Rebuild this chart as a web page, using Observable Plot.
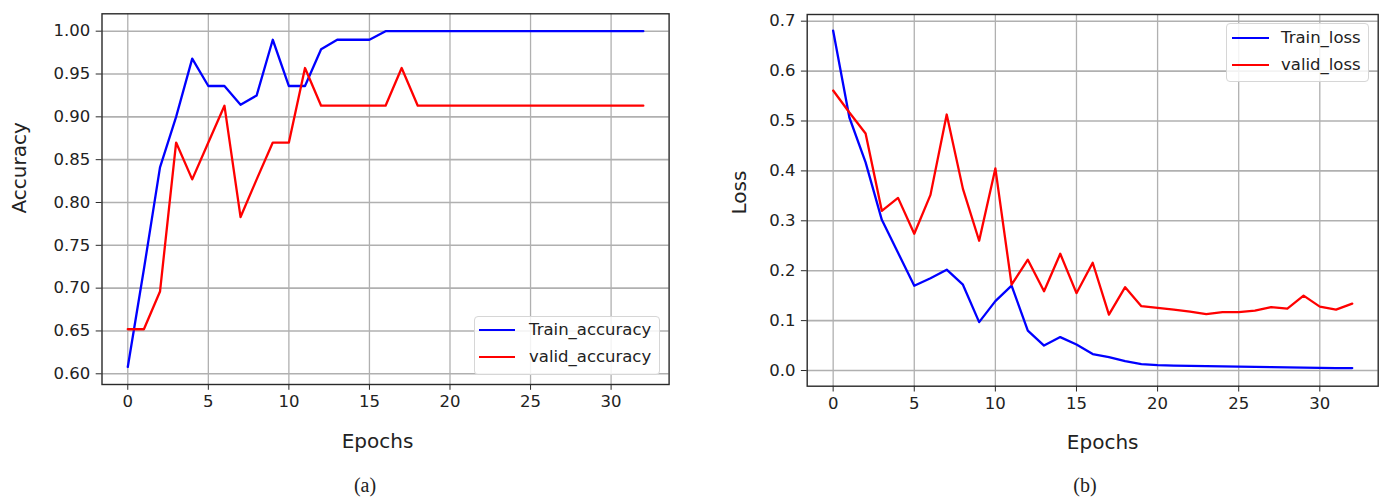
<!DOCTYPE html>
<html>
<head>
<meta charset="utf-8">
<script src="https://cdn.jsdelivr.net/npm/d3@7"></script>
<script src="https://cdn.jsdelivr.net/npm/@observablehq/plot@0.6"></script>
<style>
  html, body { margin: 0; padding: 0; background: #fff; }
  #wrap { position: relative; width: 1387px; height: 498px; overflow: hidden; font-family: "DejaVu Sans", sans-serif; color: #222; }
  .panel { position: absolute; top: 0; }
  .legend { position: absolute; background: rgba(255,255,255,0.85); border: 1px solid #d6d6d6; border-radius: 4px; box-sizing: border-box; }
  .legend .row { position: absolute; left: 0; height: 20px; display: flex; align-items: center; }
  .legend .sw { display: inline-block; height: 2.4px; }
  .legend .lab { position: absolute; font-size: 16.5px; color: #222; white-space: nowrap; line-height: 20px; }
  .cap { position: absolute; font-family: "Liberation Serif", "Times New Roman", serif; font-size: 20px; color: #222; transform: translate(-50%, -50%); white-space: nowrap; }
</style>
</head>
<body>
<div id="wrap"></div>
<script>
// ---- data ----
const epochs = d3.range(33);
const trainAcc = [0.608, 0.722, 0.841, 0.900, 0.968, 0.936, 0.936, 0.914, 0.925, 0.990,
                  0.936, 0.936, 0.979, 0.990, 0.990, 0.990, 1.0, 1.0, 1.0, 1.0,
                  1.0, 1.0, 1.0, 1.0, 1.0, 1.0, 1.0, 1.0, 1.0, 1.0,
                  1.0, 1.0, 1.0];
const validAcc = [0.652, 0.652, 0.696, 0.870, 0.827, 0.870, 0.913, 0.783, 0.827, 0.870,
                  0.870, 0.957, 0.913, 0.913, 0.913, 0.913, 0.913, 0.957, 0.913, 0.913,
                  0.913, 0.913, 0.913, 0.913, 0.913, 0.913, 0.913, 0.913, 0.913, 0.913,
                  0.913, 0.913, 0.913];
const trainLoss = [0.681, 0.507, 0.417, 0.302, 0.236, 0.170, 0.185, 0.202, 0.172, 0.097,
                   0.139, 0.170, 0.080, 0.050, 0.067, 0.052, 0.033, 0.027, 0.019, 0.013,
                   0.011, 0.010, 0.0095, 0.009, 0.0085, 0.008, 0.0075, 0.007, 0.0065, 0.006,
                   0.0055, 0.005, 0.005];
const validLoss = [0.561, 0.517, 0.475, 0.320, 0.346, 0.274, 0.352, 0.513, 0.364, 0.260,
                   0.405, 0.172, 0.222, 0.159, 0.234, 0.155, 0.216, 0.112, 0.167, 0.129,
                   0.1255, 0.122, 0.118, 0.113, 0.117, 0.117, 0.120, 0.127, 0.124, 0.150,
                   0.128, 0.122, 0.134];
const epochTicks = [0, 5, 10, 15, 20, 25, 30];
const accTicks = [0.60, 0.65, 0.70, 0.75, 0.80, 0.85, 0.90, 0.95, 1.00];
const lossTicks = [0.0, 0.1, 0.2, 0.3, 0.4, 0.5, 0.6, 0.7];
const accSeries = ["Train_accuracy", "valid_accuracy"];
const lossSeries = ["Train_loss", "valid_loss"];
const seriesColors = ["#0000ff", "#ff0000"];
const xLabel = "Epochs";
const yLabels = ["Accuracy", "Loss"];
const captions = ["(a)", "(b)"];

const wrap = document.getElementById("wrap");

function panel({left, width, mL, mR, mT, mB, yDomain, yTicks, yFmt, series, yLabel, xLab, yLab}) {
  const height = 460;
  const rows = [];
  series.forEach((s, k) => s.values.forEach((v, i) => rows.push({epoch: epochs[i], value: v, name: s.name})));
  const chart = Plot.plot({
    width, height,
    marginLeft: mL, marginRight: mR, marginTop: mT, marginBottom: mB,
    style: {fontFamily: "DejaVu Sans", fontSize: "16.5px", color: "#222", background: "white", overflow: "visible"},
    x: {domain: [-1.6, 33.6]},
    y: {domain: yDomain},
    color: {domain: series.map(s => s.name), range: seriesColors},
    marks: [
      Plot.gridX(epochTicks, {stroke: "#b0b0b0", strokeOpacity: 1, strokeWidth: 1.3}),
      Plot.gridY(yTicks, {stroke: "#b0b0b0", strokeOpacity: 1, strokeWidth: 1.6}),
      Plot.line(rows, {x: "epoch", y: "value", z: "name", stroke: "name", strokeWidth: 2.3, strokeLinejoin: "round"}),
      Plot.frame({stroke: "#2a2a2a", strokeWidth: 1.4}),
      Plot.axisX(epochTicks, {tickSize: 5.8, tickPadding: 5, label: null, stroke: "#2a2a2a", fill: "#222"}),
      Plot.axisY(yTicks, {tickSize: 5.8, tickPadding: 6, tickFormat: yFmt, label: null, stroke: "#2a2a2a", fill: "#222"}),
      Plot.text([xLabel], {frameAnchor: "bottom", dx: xLab.dx, dy: xLab.dy, text: d => d, fontSize: 20, fill: "#222", lineAnchor: "middle"}),
      Plot.text([yLabel], {frameAnchor: "top-left", dx: yLab.dx, dy: yLab.dy, text: d => d, rotate: -90, fontSize: 20, fill: "#222", textAnchor: "middle", lineAnchor: "middle"})
    ]
  });
  const div = document.createElement("div");
  div.className = "panel";
  div.style.left = left + "px";
  div.appendChild(chart);
  wrap.appendChild(div);
}

panel({
  left: 0, width: 700, mL: 101.5, mR: 31.4, mT: 13.3, mB: 76,
  yDomain: [0.5875, 1.0203], yTicks: accTicks, yFmt: d3.format(".2f"),
  series: [{name: accSeries[0], values: trainAcc}, {name: accSeries[1], values: validAcc}],
  yLabel: yLabels[0], xLab: {dx: -8, dy: 57}, yLab: {dx: -82.5, dy: 154}
});
panel({
  left: 700, width: 687, mL: 106.7, mR: 9.3, mT: 14, mB: 74.3,
  yDomain: [-0.0314, 0.7134], yTicks: lossTicks, yFmt: d3.format(".1f"),
  series: [{name: lossSeries[0], values: trainLoss}, {name: lossSeries[1], values: validLoss}],
  yLabel: yLabels[1], xLab: {dx: 10, dy: 56}, yLab: {dx: -67.5, dy: 178}
});

function legend(x, y, w, h, names, swX, swW, rowY, textX) {
  const lg = document.createElement("div");
  lg.className = "legend";
  Object.assign(lg.style, {left: x + "px", top: y + "px", width: w + "px", height: h + "px"});
  names.forEach((n, k) => {
    const sw = document.createElement("div");
    sw.className = "sw";
    Object.assign(sw.style, {position: "absolute", left: swX + "px", top: (rowY[k] - 1.2) + "px", width: swW + "px", background: seriesColors[k]});
    lg.appendChild(sw);
    const t = document.createElement("div");
    t.className = "lab";
    t.textContent = n;
    Object.assign(t.style, {left: textX + "px", top: (rowY[k] - 10) + "px"});
    lg.appendChild(t);
  });
  wrap.appendChild(lg);
}
legend(474, 316, 186, 59, accSeries, 4, 36, [13, 40], 54);
legend(1226, 23, 143, 59, lossSeries, 5, 37, [14, 41], 54);

[[captions[0], 365, 485], [captions[1], 1085, 485]].forEach(([t, x, y]) => {
  const c = document.createElement("div");
  c.className = "cap";
  c.textContent = t;
  c.style.left = x + "px";
  c.style.top = y + "px";
  wrap.appendChild(c);
});
</script>
</body>
</html>
